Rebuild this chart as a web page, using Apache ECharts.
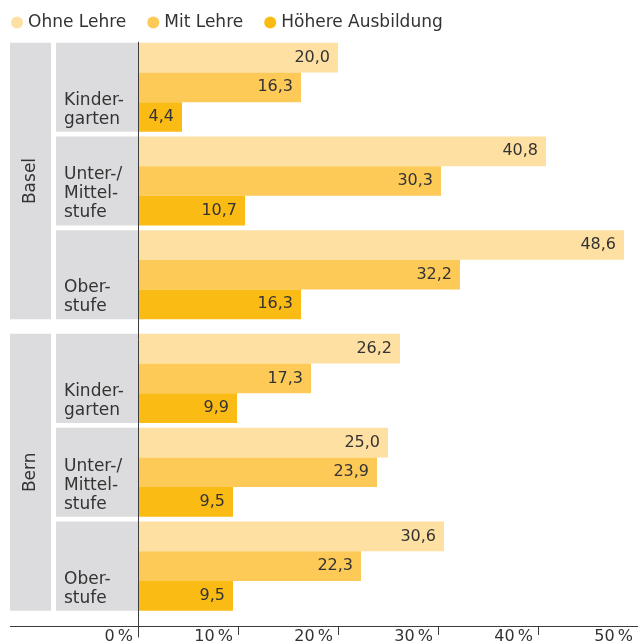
<!DOCTYPE html>
<html><head><meta charset="utf-8">
<script src="https://cdn.jsdelivr.net/npm/echarts@6/dist/echarts.min.js"></script>
<style>html,body{margin:0;padding:0;background:#fff}#c{width:638px;height:644px}</style>
</head><body><div id="c"></div>
<script>
const cities = ['Basel', 'Bern'];
const levels = ['Kinder-\ngarten', 'Unter-/\nMittel-\nstufe', 'Ober-\nstufe'];
const seriesNames = ['Ohne Lehre', 'Mit Lehre', 'Höhere Ausbildung'];
const baselOhne = [20.0, 40.8, 48.6];
const baselMit = [16.3, 30.3, 32.2];
const baselHoehere = [4.4, 10.7, 16.3];
const bernOhne = [26.2, 25.0, 30.6];
const bernMit = [17.3, 23.9, 22.3];
const bernHoehere = [9.9, 9.5, 9.5];
const xTicks = [0, 10, 20, 30, 40, 50];

const colors = ['#fee0a3', '#fdc957', '#fbbb15'];
const FONT = 'DejaVu Sans';
const TXT = '#333333';
const LINE = '#3c3c3c';
const GRAY = '#dcdcde';
const GAP = 0.05;

const cityData = [[baselOhne, baselMit, baselHoehere], [bernOhne, bernMit, bernHoehere]];

const chart = echarts.init(document.getElementById('c'), null, {renderer: 'canvas'});

const fmt = v => v.toFixed(1).replace('.', ',');

const series = [];
cityData.forEach((sets, ci) => {
  sets.forEach((vals, si) => {
    series.push({
      type: 'bar', name: seriesNames[si], xAxisIndex: ci, yAxisIndex: ci,
      data: vals, barGap: 0, barCategoryGap: (GAP * 100) + '%',
      itemStyle: {color: colors[si]},
      label: {show: true, position: 'insideRight', distance: 8, formatter: p => fmt(p.value),
        color: TXT, fontSize: 16, fontFamily: FONT},
      emphasis: {disabled: true}, animation: false
    });
  });
});

const option = {
  animation: false,
  textStyle: {fontFamily: FONT},
  color: colors,
  legend: {
    data: seriesNames, left: 6, top: 9, icon: 'circle', itemWidth: 12, itemHeight: 12, itemGap: 21,
    textStyle: {fontSize: 17, color: TXT, fontFamily: FONT}
  },
  grid: [
    {left: 138, top: 40.5, width: 500, height: 281, outerBoundsMode: 'none', containLabel: false},
    {left: 138, top: 331.5, width: 500, height: 281.5, outerBoundsMode: 'none', containLabel: false}
  ],
  xAxis: [
    {gridIndex: 0, type: 'value', min: xTicks[0], max: xTicks[xTicks.length - 1], interval: 10, show: false, splitLine: {show: false}},
    {gridIndex: 1, type: 'value', min: xTicks[0], max: xTicks[xTicks.length - 1], interval: 10, offset: 13,
      axisLine: {show: false}, splitLine: {show: false},
      axisTick: {show: true, length: 9, lineStyle: {color: LINE, width: 1}},
      axisLabel: {show: true, showMinLabel: true, showMaxLabel: true, align: 'right', padding: [0, 5, 0, 0], margin: 3,
        fontSize: 16, color: TXT, fontFamily: FONT, formatter: v => v + '\u2009%'}}
  ],
  yAxis: cities.map((c, ci) => ({
    gridIndex: ci, type: 'category', data: levels, inverse: true,
    axisLine: {show: false}, axisTick: {show: false}, axisLabel: {show: false}, splitLine: {show: false}
  })),
  series: series
};
chart.setOption(option);

// decorations derived from the axes
const x0 = chart.convertToPixel({xAxisIndex: 1}, 0);
const graphics = [];
let firstTop = null, axisY = null;
cities.forEach((city, ci) => {
  const c0 = chart.convertToPixel({yAxisIndex: ci}, 0);
  const c1 = chart.convertToPixel({yAxisIndex: ci}, 1);
  const step = Math.abs(c1 - c0);
  const half = step * (1 - GAP) / 2;
  let top = null, bottom = null;
  levels.forEach((lv, li) => {
    const cy = chart.convertToPixel({yAxisIndex: ci}, li);
    const t = cy - half, b = cy + half;
    if (top === null) top = t;
    bottom = b;
    graphics.push({type: 'rect', shape: {x: 56, y: t, width: x0 - 56, height: b - t}, style: {fill: GRAY}, z: 1, silent: true});
    graphics.push({type: 'text', x: 64, y: b - 3, style: {text: lv, fill: TXT, font: '17px "' + FONT + '"', lineHeight: 19,
      textAlign: 'left', textVerticalAlign: 'bottom'}, z: 2, silent: true});
  });
  graphics.push({type: 'rect', shape: {x: 10, y: top, width: 41, height: bottom - top}, style: {fill: GRAY}, z: 1, silent: true});
  graphics.push({type: 'text', x: 30.5, y: (top + bottom) / 2, rotation: Math.PI / 2,
    style: {text: city, fill: TXT, font: '17px "' + FONT + '"', textAlign: 'center', textVerticalAlign: 'middle'}, z: 2, silent: true});
  if (firstTop === null) firstTop = top;
  if (ci === cities.length - 1) axisY = chart.convertToPixel({yAxisIndex: ci}, levels.length - 1) + step / 2 + 13;
});
axisY = Math.round(axisY) + 0.5;
const lx = Math.round(x0) + 0.5;
graphics.push({type: 'line', shape: {x1: 10, y1: axisY, x2: 638, y2: axisY}, style: {stroke: LINE, lineWidth: 1}, z: 20, silent: true});
graphics.push({type: 'line', shape: {x1: lx, y1: firstTop - 1, x2: lx, y2: axisY + 11}, style: {stroke: LINE, lineWidth: 1}, z: 20, silent: true});
chart.setOption({graphic: graphics});
</script>
</body></html>
